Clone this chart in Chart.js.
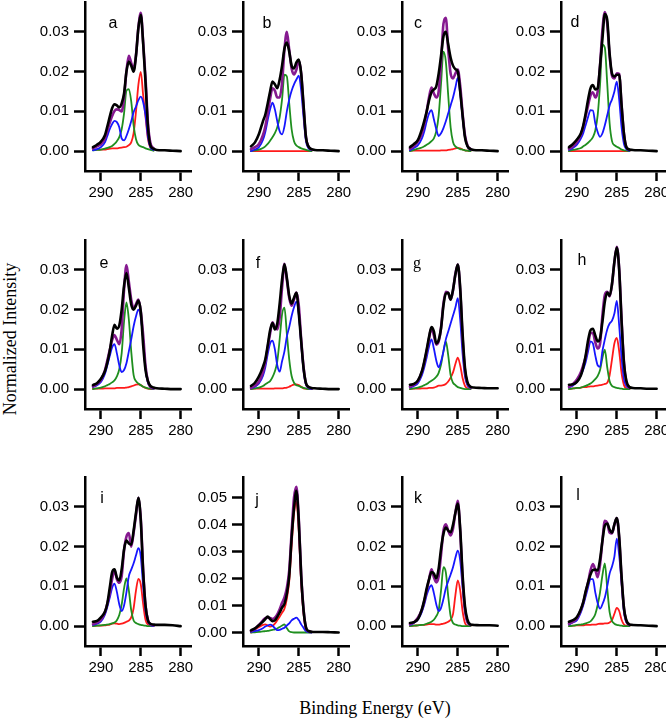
<!DOCTYPE html>
<html>
<head>
<meta charset="utf-8">
<script src="https://cdn.jsdelivr.net/npm/chart.js"></script>
<style>
    html, body { margin: 0; padding: 0; background: #fff; }
    #stage { position: relative; width: 666px; height: 722px; overflow: hidden; background: #fff; }
    #stage canvas { position: absolute; }
    .panel-tag { position: absolute; font: 16px "Liberation Sans", Arial, sans-serif; color: #000; transform: translate(-50%, -50%); }
    .panel-tag.serif { font-family: "Liberation Serif", "Times New Roman", serif; }
    .axis-title { position: absolute; font: 18px "Liberation Serif", "Times New Roman", serif; color: #000; white-space: nowrap; transform: translate(-50%, -50%); }
</style>
</head>
<body>
<div id="stage">
    <div class="axis-title" style="left:10px; top:339px; transform: translate(-50%, -50%) rotate(-90deg);">Normalized Intensity</div>
    <div class="axis-title" style="left:375px; top:708px;">Binding Energy (eV)</div>
</div>
<script>
// binding energy grid (eV), shared by all panels
var energy = [291.0, 290.5, 290.0, 289.5, 289.2, 288.9, 288.6, 288.3, 288.0, 287.7, 287.4, 287.1, 286.8, 286.5,
    286.2, 285.9, 285.6, 285.3, 285.0, 284.7, 284.4, 284.1, 283.8, 283.4, 283.0, 282.0, 281.0, 280.0];
var xTicks = [290, 285, 280];
var yTicks = [0, 0.01, 0.02, 0.03];
var yTicksJ = [0, 0.01, 0.02, 0.03, 0.04, 0.05];
var panelLetters = ['a', 'b', 'c', 'd', 'e', 'f', 'g', 'h', 'i', 'j', 'k', 'l'];

// intensities in units of 1e-3 (components + fit up to 283.4 eV, data to 280 eV)
var aRed = [0.3, 0.4, 0.4, 0.4, 0.5, 0.6, 0.7, 0.7, 0.7, 0.8, 0.9, 1.0, 1.1, 1.5, 2.2, 4.5, 10, 16.7, 19.9, 14, 8.5, 3, 0.8, 0.2];
var aGreen = [0.2, 0.3, 0.4, 0.6, 0.8, 1.0, 1.3, 1.8, 2.5, 3.5, 5.5, 9.5, 15.2, 15.6, 12.5, 6.5, 3.0, 1.6, 1.2, 1.0, 0.7, 0.5, 0.3, 0.1];
var aBlue = [0.2, 0.5, 1.0, 2.2, 3.8, 5.5, 6.8, 7.6, 7.3, 6.0, 3.2, 2.7, 3.8, 5.5, 7.5, 9.8, 11.2, 12.8, 13.7, 12.3, 9, 3.5, 1.0, 0.3];
var aFit = [0.7, 1.2, 1.8, 3.2, 5.1, 7.1, 8.8, 10.1, 10.5, 10.3, 10, 13.5, 20.1, 24, 22.2, 20.6, 24.2, 31.1, 34.8, 27.3, 18.2, 7.0, 2.1, 0.7];
var aData = [1.0, 1.6, 2.4, 4.0, 6.2, 8.6, 10.8, 11.8, 11.5, 11.0, 12.0, 14.5, 20, 22.5, 21.5, 20, 24, 31, 34.3, 27, 17, 6, 1.5, 0.6, 0.3, 0.2, 0.1, 0];

var bRed = [0, 0, 0, 0, 0, 0, 0, 0, 0, 0, 0, 0, 0, 0, 0, 0, 0, 0, 0, 0, 0, 0, 0, 0];
var bGreen = [0, 0.2, 0.4, 0.8, 1.2, 1.8, 2.6, 3.5, 4.5, 6, 8.5, 13, 19.2, 18.8, 12, 5.5, 2.5, 1.4, 1, 0.7, 0.5, 0.3, 0.1, 0];
var bBlue = [0, 0.4, 1, 2.8, 4.8, 7.8, 10.5, 12.2, 10.5, 7.5, 5, 4.2, 6.2, 10, 13, 15.2, 16.8, 18, 19, 15.2, 8.5, 2.5, 0.8, 0.2];
var bFit = [0.5, 1.0, 1.8, 4.0, 6.2, 9.6, 13.2, 15.8, 15.2, 13.5, 13.5, 17.2, 25.5, 30, 25.5, 20.8, 19.3, 20.5, 22.8, 19.5, 11, 3.5, 1.2, 0.4];
var bData = [1.2, 2.2, 4.3, 7.5, 9.2, 12, 15, 17.5, 16.8, 15.8, 18, 21.5, 25.8, 27.3, 25, 21.5, 20.8, 22.3, 23, 19.5, 11.5, 3.5, 1.2, 0.5, 0.3, 0.2, 0.1, 0];

var cRed = [0.1, 0.1, 0.1, 0.1, 0.1, 0.1, 0.1, 0.1, 0.1, 0.1, 0.1, 0.2, 0.2, 0.2, 0.3, 0.4, 0.5, 0.7, 0.8, 0.7, 0.4, 0.2, 0.1, 0];
var cGreen = [0, 0.3, 0.6, 0.9, 1.2, 1.6, 2, 2.5, 3.2, 5, 9, 17, 25, 22.5, 14, 6, 2.3, 1.2, 0.8, 0.5, 0.4, 0.2, 0.1, 0];
var cBlue = [0.2, 0.8, 1.5, 3.2, 5, 7.5, 9.5, 10.3, 8, 5.5, 3.8, 4.5, 5.8, 7.5, 9.5, 11.5, 13.5, 16, 18.4, 14.5, 8.5, 3.5, 1.2, 0.3];
var cFit = [0.6, 1.3, 2.4, 4.5, 6.8, 10, 13.6, 16, 14.5, 13.5, 15, 22.5, 32, 33.5, 25.5, 19.5, 18.3, 19.5, 20.5, 16.5, 9.5, 4, 1.5, 0.5];
var cData = [1, 1.8, 2.8, 5.5, 7.6, 10, 12.8, 14.8, 15.5, 16.3, 19.5, 24, 28.8, 30, 26.8, 23.5, 21.5, 20.6, 20, 15, 9, 3.5, 1.3, 0.5, 0.3, 0.2, 0.1, 0];

var dRed = [0, 0, 0, 0, 0, 0, 0, 0, 0, 0, 0, 0, 0, 0, 0, 0, 0, 0, 0, 0, 0, 0, 0, 0];
var dGreen = [0, 0.3, 0.5, 0.8, 1.2, 1.6, 2.1, 2.7, 3.5, 5.2, 9, 16.7, 26.8, 26, 17, 7, 2.5, 1.5, 1.1, 0.8, 0.4, 0.2, 0.1, 0];
var dBlue = [0.3, 0.8, 1.6, 3.2, 4.6, 6.6, 8.6, 10.3, 10.2, 7, 4.8, 3.6, 4.5, 6.5, 9, 11.5, 13, 15, 17.5, 13, 6, 1.8, 0.5, 0.1];
var dFit = [0.6, 1.2, 2.3, 4.2, 6.2, 8.8, 11.5, 14, 14.8, 13.5, 15, 21.5, 30.5, 35, 32, 24, 19, 18.3, 19.6, 19.4, 11.5, 4.3, 1, 0.3];
var dData = [1, 1.8, 2.9, 4.5, 6.5, 9.5, 13, 15.8, 16.6, 15.5, 15.8, 21.5, 28.3, 34.5, 33, 24.5, 19.5, 18.8, 19.2, 19.2, 11.5, 4.3, 1, 0.4, 0.3, 0.2, 0.1, 0];

var eRed = [0.1, 0.1, 0.1, 0.2, 0.2, 0.2, 0.2, 0.2, 0.3, 0.3, 0.3, 0.3, 0.4, 0.5, 0.7, 0.9, 1.1, 1.2, 1.0, 0.6, 0.3, 0.1, 0, 0];
var eGreen = [0, 0.2, 0.4, 0.7, 1.0, 1.3, 1.7, 2.2, 3.2, 5, 9, 17, 21.8, 17.5, 9.5, 3.5, 2, 1.4, 1.0, 0.6, 0.4, 0.2, 0.1, 0];
var eBlue = [0.5, 1.0, 1.8, 3.8, 6, 8.3, 10.5, 11.3, 9, 6, 4.3, 4.8, 6.5, 9.5, 12.5, 15.8, 18.3, 20, 18, 12.5, 5, 1.6, 0.5, 0.1];
var eFit = [0.7, 1.3, 2.3, 4.7, 7.2, 9.8, 12.3, 13.6, 12.4, 11.3, 15, 25, 31.2, 27, 22.5, 20.2, 21.4, 22.5, 19.5, 13.5, 5.7, 1.9, 0.6, 0.2];
var eData = [1, 1.5, 2.6, 4.5, 6.6, 9.5, 13.4, 16.2, 15.2, 16, 20, 26, 29.2, 25.5, 21.3, 20, 21, 22.3, 19.5, 11, 4.7, 2, 0.8, 0.4, 0.2, 0.1, 0, 0];

var fRed = [0, 0.1, 0.1, 0.1, 0.1, 0.1, 0.1, 0.1, 0.2, 0.2, 0.2, 0.2, 0.3, 0.4, 0.6, 0.9, 1.1, 1.2, 1.0, 0.6, 0.2, 0.1, 0, 0];
var fGreen = [0, 0.2, 0.4, 0.8, 1.2, 1.6, 2, 3, 4.5, 7, 12.5, 18.8, 20.5, 14, 7.5, 3.3, 1.6, 1, 0.8, 0.5, 0.3, 0.1, 0, 0];
var fBlue = [0.2, 0.6, 1.4, 3.3, 5.5, 8.8, 11.5, 12.2, 10, 6, 4.4, 7, 9.5, 13.2, 15.6, 18.4, 20.6, 22, 18.8, 11.5, 4.8, 1.2, 0.3, 0];
var fFit = [0.3, 0.9, 1.9, 4.2, 6.8, 10.5, 14, 16.8, 15.6, 15, 18, 25.5, 31.5, 27.5, 23, 21, 22.5, 24.3, 21, 12.5, 5.5, 1.4, 0.5, 0.2];
var fData = [0.8, 1.6, 3.2, 5.6, 7.5, 11, 14.8, 16.6, 15, 16.5, 21.5, 27.5, 31.4, 28, 23.5, 21.5, 23, 24.2, 19, 12, 5.2, 1.5, 0.6, 0.3, 0.2, 0.1, 0, 0];

var gRed = [0, 0.1, 0.1, 0.2, 0.2, 0.2, 0.3, 0.3, 0.4, 0.6, 0.9, 0.9, 1.0, 1.3, 1.9, 2.9, 4.2, 6.3, 7.9, 6, 2.8, 0.8, 0.2, 0];
var gGreen = [0, 0.2, 0.4, 0.7, 1.0, 1.3, 1.7, 2.1, 2.5, 3.1, 4.1, 6.2, 9.5, 12, 8.5, 3.5, 1.6, 1.0, 0.5, 0.3, 0.1, 0, 0, 0];
var gBlue = [0.4, 0.8, 1.5, 3.5, 5.5, 8, 10.8, 12.5, 10.2, 7.2, 5.5, 7, 9.5, 12.5, 14.5, 16.5, 18.5, 20.5, 22.9, 17.5, 9, 3.2, 1.0, 0.2];
var gFit = [0.6, 1.1, 2.0, 4.4, 6.7, 9.5, 12.8, 15.4, 13.5, 11.2, 12, 15.5, 21.5, 24.5, 24.2, 22.5, 24.8, 29, 31.3, 25, 13, 4.6, 1.5, 0.4];
var gData = [1.1, 1.3, 2.2, 4.5, 7, 10, 13.2, 15.6, 14.5, 11.5, 12.3, 15.3, 21, 24, 24.2, 22.5, 25, 28.8, 31.3, 25.5, 14, 5.4, 1.8, 0.6, 0.4, 0.3, 0.2, 0.2];

var hRed = [0, 0.2, 0.3, 0.4, 0.5, 0.5, 0.6, 0.7, 0.7, 0.8, 0.9, 1.0, 1.1, 1.3, 1.6, 3.5, 7.5, 11.5, 12.9, 9.5, 4, 1, 0.2, 0];
var hGreen = [0, 0.2, 0.3, 0.4, 0.6, 0.8, 1.1, 1.4, 1.9, 2.5, 3.3, 4.8, 7.9, 9.9, 5.5, 2, 0.8, 0.5, 0.3, 0.2, 0.1, 0, 0, 0];
var hBlue = [0.4, 0.9, 1.8, 3.5, 5, 6.8, 9.5, 12, 11.5, 8.5, 6, 5.6, 9.6, 12.5, 15, 16.5, 17.2, 19, 22.2, 16, 8, 2.5, 0.8, 0.2];
var hFit = [0.6, 1.3, 2.4, 4.3, 6.1, 8.1, 11.2, 14.1, 14.1, 11.8, 10.2, 11.4, 18.6, 23.7, 24.5, 23.3, 26.3, 32, 35.8, 30.2, 17.5, 6.8, 1.8, 0.3];
var hData = [1.1, 1.2, 1.8, 3.5, 5.5, 8.5, 12.3, 14.8, 15.2, 13.5, 12, 12.8, 17, 22, 24.3, 23.5, 26.5, 32, 35.6, 30, 17, 6.5, 2.1, 0.5, 0.3, 0.2, 0.1, 0.1];

var iRed = [0, 0.1, 0.1, 0.2, 0.3, 0.4, 0.6, 0.7, 0.6, 0.5, 0.6, 0.8, 1.1, 1.4, 2.2, 4.5, 9, 11.9, 10.5, 5.5, 1.5, 0.4, 0.1, 0];
var iGreen = [0, 0.1, 0.2, 0.3, 0.4, 0.5, 0.7, 0.9, 1.5, 2.8, 5.4, 9.5, 12, 9, 4, 1.4, 0.8, 0.5, 0.3, 0.2, 0.1, 0, 0, 0];
var iBlue = [0.3, 0.6, 1.2, 2.9, 4.8, 7.1, 9.6, 10.7, 8.6, 5.5, 3.8, 5.2, 8.5, 12.5, 14.2, 15.8, 17.8, 19.6, 17.5, 10, 3.8, 1.2, 0.3, 0];
var iFit = [0.5, 0.9, 1.6, 3.5, 5.6, 8.2, 11.8, 14, 11.8, 10.9, 12.5, 19, 22.5, 23.4, 20, 23.5, 28, 32.3, 27, 14, 5, 1.5, 0.5, 0.2];
var iData = [1.1, 1.3, 2.2, 3.6, 5.7, 9.6, 13.5, 14.3, 12.2, 11.5, 14.3, 19.3, 21.5, 20.8, 20.5, 24, 28.5, 32.3, 26.5, 13.5, 5, 1.4, 0.6, 0.4, 0.3, 0.3, 0.2, 0];

var jRed = [0, 1.0, 2.0, 2.8, 3.0, 2.6, 2.2, 2.5, 3.3, 4.5, 5.8, 7.3, 8.8, 12.5, 19, 32, 44, 48.5, 37.5, 18.5, 7, 1.2, 0.3, 0];
var jGreen = [0, 0.1, 0.2, 0.4, 0.5, 0.6, 0.8, 1.0, 1.2, 1.5, 2.0, 2.6, 3.0, 1.6, 0.4, 0.1, 0, 0, 0, 0, 0, 0, 0, 0];
var jBlue = [0.2, 0.5, 0.9, 1.6, 2.2, 2.6, 2.9, 2.5, 1.6, 0.9, 1.0, 1.4, 1.8, 2.6, 3.4, 4.5, 5.1, 5.5, 4.6, 3, 1.7, 0.5, 0.1, 0];
var jFit = [0.5, 1.4, 2.8, 4.5, 5.3, 5.5, 5.4, 5.0, 5.5, 6.7, 8.6, 11, 13, 16.5, 23, 37, 50, 54, 42, 21.5, 8.5, 1.7, 0.5, 0.2];
var jData = [0.8, 1.5, 2.7, 4.0, 5.0, 5.9, 5.0, 4.2, 4.5, 5.8, 7.4, 9.2, 10.6, 14.3, 21, 35, 46, 52.5, 41, 21, 8.2, 1.9, 0.6, 0.3, 0.2, 0.2, 0.1, 0];

var kRed = [0, 0.1, 0.2, 0.3, 0.3, 0.4, 0.5, 0.5, 0.5, 0.4, 0.4, 0.5, 0.6, 0.8, 1.1, 1.6, 3.0, 7.8, 11.5, 9, 3.8, 0.8, 0.1, 0];
var kGreen = [0, 0.1, 0.2, 0.3, 0.4, 0.6, 0.8, 1.1, 1.6, 2.5, 4.0, 9, 14.8, 13.5, 7.5, 2.5, 0.8, 0.4, 0.2, 0.1, 0, 0, 0, 0];
var kBlue = [0.3, 0.8, 1.7, 3.6, 5.5, 7.8, 9.5, 10.3, 8.3, 5.5, 3.8, 4.6, 6.8, 9.5, 11.3, 13, 14.8, 17.2, 19, 16.5, 9.8, 3.8, 1.0, 0.2];
var kFit = [0.5, 1.0, 2.1, 4.2, 6.3, 9, 11.8, 14.3, 12.3, 11, 12.5, 18, 24, 25.6, 24, 22.8, 24.5, 28.5, 31.5, 24, 12, 4.2, 1.1, 0.3];
var kData = [0.8, 1.0, 1.8, 4.3, 6.6, 9.5, 11.8, 13.6, 13.2, 12, 14.5, 19.5, 23.2, 24.8, 24, 23.6, 25.5, 28.5, 30.8, 24.5, 13, 5, 1.7, 0.4, 0.3, 0.2, 0.2, 0.1];

var lRed = [0, 0.1, 0.2, 0.2, 0.2, 0.3, 0.3, 0.3, 0.4, 0.4, 0.5, 0.6, 0.6, 0.7, 0.7, 0.9, 1.5, 3.1, 4.6, 3.8, 1.6, 0.4, 0.1, 0];
var lGreen = [0, 0.1, 0.3, 0.4, 0.5, 0.7, 0.9, 1.2, 1.9, 3.0, 5.3, 8.5, 12.8, 15.8, 9.5, 3.5, 1.3, 0.6, 0.3, 0.2, 0.1, 0, 0, 0];
var lBlue = [0.4, 0.9, 1.5, 3.5, 5.3, 7.5, 9.8, 11.8, 11.8, 8.5, 5.8, 4.4, 5.5, 7.2, 10, 13.2, 15, 17.5, 22, 17.8, 11, 3.5, 1.0, 0.2];
var lFit = [0.6, 1.1, 2.0, 4.1, 6, 8.5, 11, 14, 15.6, 14.2, 12.3, 15.5, 21.5, 26.5, 26, 23.5, 23.3, 25.5, 27.2, 22, 12, 4.5, 1.2, 0.3];
var lData = [1.1, 1.5, 2.3, 4.3, 6.1, 8.8, 11, 13, 14.1, 14.2, 14, 16.8, 21.5, 25.3, 25.8, 24.3, 23.5, 25.6, 27.2, 22.5, 12.5, 4.5, 1.5, 0.4, 0.3, 0.2, 0.1, 0];

var panelSeries = [
    [aRed, aGreen, aBlue, aFit, aData], [bRed, bGreen, bBlue, bFit, bData],
    [cRed, cGreen, cBlue, cFit, cData], [dRed, dGreen, dBlue, dFit, dData],
    [eRed, eGreen, eBlue, eFit, eData], [fRed, fGreen, fBlue, fFit, fData],
    [gRed, gGreen, gBlue, gFit, gData], [hRed, hGreen, hBlue, hFit, hData],
    [iRed, iGreen, iBlue, iFit, iData], [jRed, jGreen, jBlue, jFit, jData],
    [kRed, kGreen, kBlue, kFit, kData], [lRed, lGreen, lBlue, lFit, lData]
];

// layout: plot-area left edges per column, top edges per row
var colX = [85, 243, 402, 561];
var rowY = [0, 238, 475];
var plotW = 106, plotH = 171;
var padL = 60, padT = 12, padR = 12, axisH = 34;
var tagPos = [[28, 23], [24, 23], [16, 23], [14, 22], [19, 25], [15, 25], [15, 25], [21, 22], [17, 23], [14, 25], [16, 23], [17, 20]];

var FONT = '"Liberation Sans", Arial, sans-serif';
Chart.defaults.color = '#000';

function line(vals, color, width) {
    return {
        data: vals.map(function (v, k) { return { x: energy[k], y: v / 1000 }; }),
        borderColor: color,
        borderWidth: width,
        pointRadius: 0,
        fill: false,
        cubicInterpolationMode: 'monotone',
        borderJoinStyle: 'round',
        borderCapStyle: 'round'
    };
}

var stage = document.getElementById('stage');

panelSeries.forEach(function (s, i) {
    var col = i % 4, row = Math.floor(i / 4);
    var isJ = panelLetters[i] === 'j';
    var ticksY = isJ ? yTicksJ : yTicks;

    var canvas = document.createElement('canvas');
    canvas.width = padL + plotW + padR;
    canvas.height = padT + plotH + axisH;
    canvas.style.left = (colX[col] - padL) + 'px';
    canvas.style.top = (rowY[row] - padT) + 'px';
    stage.appendChild(canvas);

    var tag = document.createElement('div');
    tag.className = 'panel-tag' + (panelLetters[i] === 'g' ? ' serif' : '');
    tag.textContent = panelLetters[i];
    tag.style.left = (colX[col] + tagPos[i][0]) + 'px';
    tag.style.top = (rowY[row] + tagPos[i][1]) + 'px';
    stage.appendChild(tag);

    new Chart(canvas, {
        type: 'line',
        data: {
            datasets: [
                line(s[4], '#000000', 2.6),
                line(s[3], '#861a90', 2.6),
                line(s[2], '#1616ff', 1.8),
                line(s[1], '#1f8f1f', 1.8),
                line(s[0], '#ff1a1a', 1.8)
            ]
        },
        options: {
            responsive: false,
            animation: false,
            events: [],
            layout: { padding: { top: padT, right: padR, left: 0, bottom: 0 } },
            plugins: { legend: { display: false }, tooltip: { enabled: false } },
            scales: {
                x: {
                    type: 'linear',
                    reverse: true,
                    min: 278.7,
                    max: 292,
                    afterBuildTicks: function (sc) { sc.ticks = xTicks.map(function (v) { return { value: v }; }); },
                    afterFit: function (sc) { sc.height = axisH; },
                    border: { color: '#000', width: 2.5 },
                    grid: { display: true, drawOnChartArea: false, drawTicks: true, tickLength: 10, tickWidth: 2.5, tickColor: '#000' },
                    ticks: { color: '#000', font: { family: FONT, size: 15 }, padding: 3, maxRotation: 0, autoSkip: false }
                },
                y: {
                    min: -0.005,
                    max: isJ ? 0.0576 : 0.0375,
                    afterBuildTicks: function (sc) { sc.ticks = ticksY.map(function (v) { return { value: v }; }); },
                    afterFit: function (sc) { sc.width = padL; },
                    border: { color: '#000', width: 2.5 },
                    grid: { display: true, drawOnChartArea: false, drawTicks: true, tickLength: 11, tickWidth: 2.5, tickColor: '#000' },
                    ticks: {
                        color: '#000', font: { family: FONT, size: 15 }, padding: 5, autoSkip: false,
                        callback: function (v) { return Number(v).toFixed(2); }
                    }
                }
            }
        }
    });
});
</script>
</body>
</html>
